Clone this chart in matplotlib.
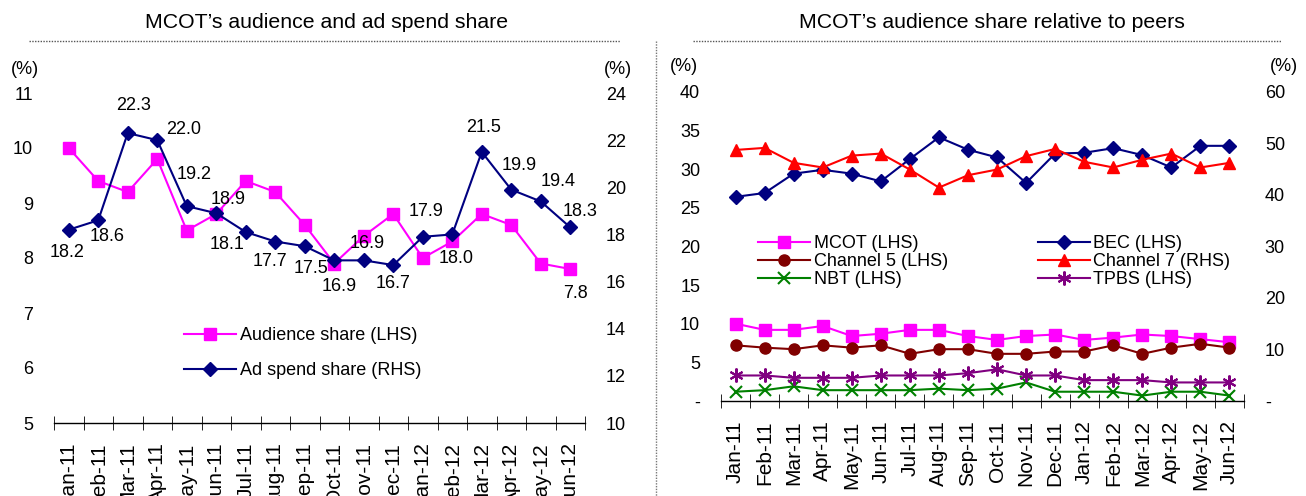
import numpy as np
import matplotlib
matplotlib.use("Agg")
import matplotlib.pyplot as plt
from matplotlib.lines import Line2D

plt.rcParams['font.family'] = ['Liberation Sans', 'DejaVu Sans']

months = ['Jan-11', 'Feb-11', 'Mar-11', 'Apr-11', 'May-11', 'Jun-11', 'Jul-11', 'Aug-11', 'Sep-11',
          'Oct-11', 'Nov-11', 'Dec-11', 'Jan-12', 'Feb-12', 'Mar-12', 'Apr-12', 'May-12', 'Jun-12']

# left chart
audience = [10.0, 9.4, 9.2, 9.8, 8.5, 8.8, 9.4, 9.2, 8.6, 7.9, 8.4, 8.8, 8.0, 8.3, 8.8, 8.6, 7.9, 7.8]
adspend = [18.2, 18.6, 22.3, 22.0, 19.2, 18.9, 18.1, 17.7, 17.5, 16.9, 16.9, 16.7, 17.9, 18.0, 21.5, 19.9, 19.4, 18.3]

# right chart
mcot = [10.0, 9.2, 9.2, 9.7, 8.4, 8.7, 9.2, 9.2, 8.4, 7.9, 8.4, 8.6, 7.9, 8.2, 8.6, 8.4, 8.0, 7.6]
ch5 = [7.2, 6.9, 6.7, 7.2, 6.9, 7.2, 6.1, 6.7, 6.7, 6.1, 6.1, 6.4, 6.4, 7.2, 6.1, 6.9, 7.4, 6.9]
nbt = [1.2, 1.4, 1.9, 1.4, 1.4, 1.4, 1.4, 1.6, 1.4, 1.6, 2.4, 1.2, 1.2, 1.2, 0.7, 1.2, 1.2, 0.7]
bec = [26.4, 26.9, 29.4, 29.9, 29.4, 28.4, 31.3, 34.1, 32.5, 31.5, 28.2, 32.0, 32.1, 32.7, 31.8, 30.2, 33.0, 33.0]
ch7 = [48.7, 49.1, 46.2, 45.3, 47.6, 48.0, 44.9, 41.4, 43.8, 44.9, 47.5, 48.9, 46.4, 45.3, 46.8, 48.0, 45.3, 46.2]
tpbs = [3.3, 3.3, 3.0, 3.0, 3.0, 3.3, 3.3, 3.3, 3.6, 4.1, 3.3, 3.3, 2.7, 2.7, 2.7, 2.4, 2.4, 2.4]

# label offsets for ad spend values (pixels)
lab_off = [(-2, -23), (9, -16), (6, 28), (26, 11), (7, 32), (12, 14), (-19, -12), (-5, -20), (6, -22),
           (5, -26), (3, 17), (0, -18), (3, 25), (4, -24), (2, 24), (8, 24), (17, 20), (10, 16)]

W, H = 1306, 496
fig = plt.figure(figsize=(W / 100, H / 100), dpi=100)
FS = 13
x = np.arange(len(months))


def style_axes(ax, ax2):
    for a in (ax, ax2):
        for s in ['top', 'left', 'right', 'bottom']:
            a.spines[s].set_visible(False)
        a.tick_params(axis='y', length=0, labelsize=FS, pad=15)
    ax.spines['bottom'].set_visible(True)
    ax.spines['bottom'].set_linewidth(1)
    ax.set_xlim(-0.5, len(months) - 0.5)
    ax.set_xticks(np.arange(-0.5, len(months)), minor=True)
    ax.set_xticks(x)
    ax.set_xticklabels(months, rotation=90, fontsize=15)
    ax.tick_params(axis='x', which='major', length=0, pad=14)
    ax.tick_params(axis='x', which='minor', length=10, direction='inout')


# ---- left chart
ax = fig.add_axes([54 / W, 1 - 423 / H, (585 - 54) / W, (423 - 93) / H])
ax2 = ax.twinx()
ax.set_ylim(5, 11)
ax.set_yticks(range(5, 12))
ax2.set_ylim(10, 24)
ax2.set_yticks(range(10, 25, 2))
style_axes(ax, ax2)
ax.plot(x, audience, color='#FF00FF', marker='s', ms=8, lw=1.5, zorder=3)
ax2.plot(x, adspend, color='#000080', marker='D', ms=7.5, lw=1.5, zorder=3)
for i, v in enumerate(adspend):
    ax2.annotate('%.1f' % v, (x[i], v), xytext=lab_off[i], textcoords='offset pixels',
                 ha='center', va='center', fontsize=FS)
ax.annotate('%.1f' % audience[-1], (x[-1], audience[-1]), xytext=(5, -25), textcoords='offset pixels',
            ha='center', va='center', fontsize=FS)
h1 = Line2D([], [], color='#FF00FF', marker='s', ms=8, lw=1.5)
h2 = Line2D([], [], color='#000080', marker='D', ms=7.5, lw=1.5)
fig.legend([h1, h2], ['Audience share (LHS)', 'Ad spend share (RHS)'], loc='upper left',
           bbox_to_anchor=(175 / W, 1 - 318 / H), frameon=False, fontsize=FS, borderpad=0,
           handlelength=2.9, handletextpad=0.2, labelspacing=1.0)

# ---- right chart
bx = fig.add_axes([721 / W, 1 - 401 / H, (1244 - 721) / W, (401 - 91.7) / H])
bx2 = bx.twinx()
bx.set_ylim(0, 40)
bx.set_yticks(range(0, 41, 5))
bx.set_yticklabels(['-'] + [str(v) for v in range(5, 41, 5)])
bx2.set_ylim(0, 60)
bx2.set_yticks(range(0, 61, 10))
bx2.set_yticklabels(['-'] + [str(v) for v in range(10, 61, 10)])
style_axes(bx, bx2)
bx.plot(x, mcot, color='#FF00FF', marker='s', ms=8, lw=1.5)
bx.plot(x, ch5, color='#800000', marker='o', ms=8, lw=1.5)
bx.plot(x, nbt, color='#008000', marker='x', ms=9, mew=1.5, lw=1.5)
bx.plot(x, bec, color='#000080', marker='D', ms=7.5, lw=1.5)
bx2.plot(x, ch7, color='#FF0000', marker='^', ms=9, lw=1.5)
bx.plot(x, tpbs, color='#800080', marker=(6, 2, 0), ms=10, mew=1.5, lw=1.5)
hs = [Line2D([], [], color='#FF00FF', marker='s', ms=8, lw=1.5),
      Line2D([], [], color='#800000', marker='o', ms=8, lw=1.5),
      Line2D([], [], color='#008000', marker='x', ms=9, mew=1.5, lw=1.5),
      Line2D([], [], color='#000080', marker='D', ms=7.5, lw=1.5),
      Line2D([], [], color='#FF0000', marker='^', ms=9, lw=1.5),
      Line2D([], [], color='#800080', marker=(6, 2, 0), ms=10, mew=1.5, lw=1.5)]
fig.legend(hs, ['MCOT (LHS)', 'Channel 5 (LHS)', 'NBT (LHS)', 'BEC (LHS)', 'Channel 7 (RHS)', 'TPBS (LHS)'],
           ncol=2, loc='upper left', bbox_to_anchor=(749 / W, 1 - 226 / H), frameon=False, fontsize=FS,
           borderpad=0, handlelength=2.9, handletextpad=0.2, labelspacing=0.05, columnspacing=4.95)

# titles, units, separators
fig.text(327 / W, 1 - 22 / H, 'MCOT\u2019s audience and ad spend share', ha='center', va='center', fontsize=15.3)
fig.text(992 / W, 1 - 22 / H, 'MCOT\u2019s audience share relative to peers', ha='center', va='center', fontsize=15.3)
for px, py in [(25, 70), (618, 70), (684, 67), (1284, 67)]:
    fig.text(px / W, 1 - py / H, '(%)', ha='center', va='center', fontsize=FS)
fig.add_artist(Line2D([29 / W, 620 / W], [1 - 41 / H] * 2, color='#555555', lw=1, ls=(0, (1, 1))))
fig.add_artist(Line2D([693 / W, 1281 / W], [1 - 41 / H] * 2, color='#555555', lw=1, ls=(0, (1, 1))))
fig.add_artist(Line2D([656 / W] * 2, [1 - 41 / H, 0], color='#777777', lw=1, ls=(0, (1, 1))))

fig.savefig('out.png', dpi=100)
